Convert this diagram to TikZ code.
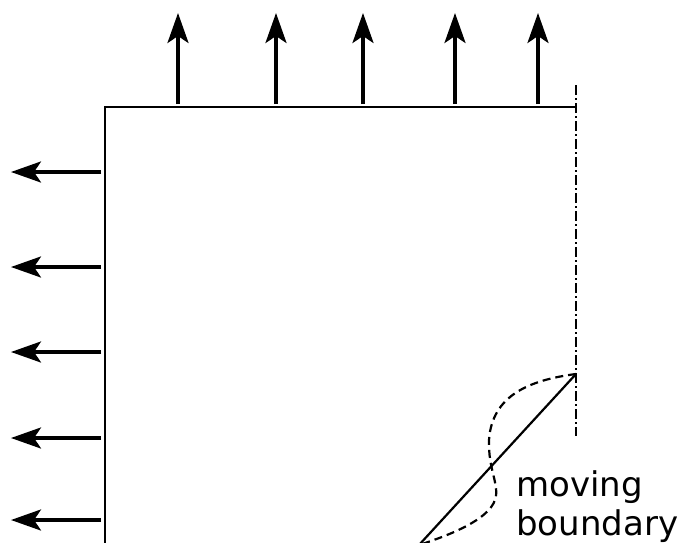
\documentclass[tikz,border=0pt]{standalone}
\usepackage{fontspec}
\setmainfont{DejaVu Sans}
\usetikzlibrary{arrows.meta}
\begin{document}
\begin{tikzpicture}[x=1pt,y=-1pt,
  wall/.style={line width=2.4pt},
  flux/.style={line width=3.4pt,-{Stealth[length=30pt,width=21pt,inset=7pt]}},
  axisline/.style={line width=1.7pt,dash pattern=on 10pt off 3pt on 2pt off 3pt},
  front/.style={line width=2.2pt},
  oldfront/.style={line width=2.2pt,dash pattern=on 8pt off 5pt},
  lbl/.style={font=\fontsize{34}{39}\selectfont,anchor=base west,inner sep=0pt}]
\useasboundingbox (0,0) rectangle (677,542);
\coordinate (tl) at (105,107);
\coordinate (tr) at (576,107);
\coordinate (bl) at (105,545);
\coordinate (axtop) at (576,85);
\coordinate (axbot) at (576,436);
\coordinate (p) at (576,374);
\coordinate (q) at (419,545);
\draw[wall] (bl) -- (tl) -- (tr);
\draw[axisline] (axtop) -- (axbot);
\draw[front] (p) -- (q);
\draw[oldfront] (p) .. controls (530,380) and (492,395) .. (489,440)
  .. controls (488,470) and (500,485) .. (495,500)
  .. controls (488,520) and (450,535) .. (q);
\foreach \x [count=\i] in {178,276,363,455,538}{
  \coordinate (ua\i) at (\x,104);
  \coordinate (ub\i) at (\x,13);
  \draw[flux] (ua\i) -- (ub\i);
}
\foreach \y [count=\i] in {172,267,352,438,520}{
  \coordinate (la\i) at (101,\y);
  \coordinate (lb\i) at (11,\y);
  \draw[flux] (la\i) -- (lb\i);
}
\node[lbl] (txt1) at (516,496) {moving};
\node[lbl] (txt2) at (516,535) {boundary};
\end{tikzpicture}
\end{document}
